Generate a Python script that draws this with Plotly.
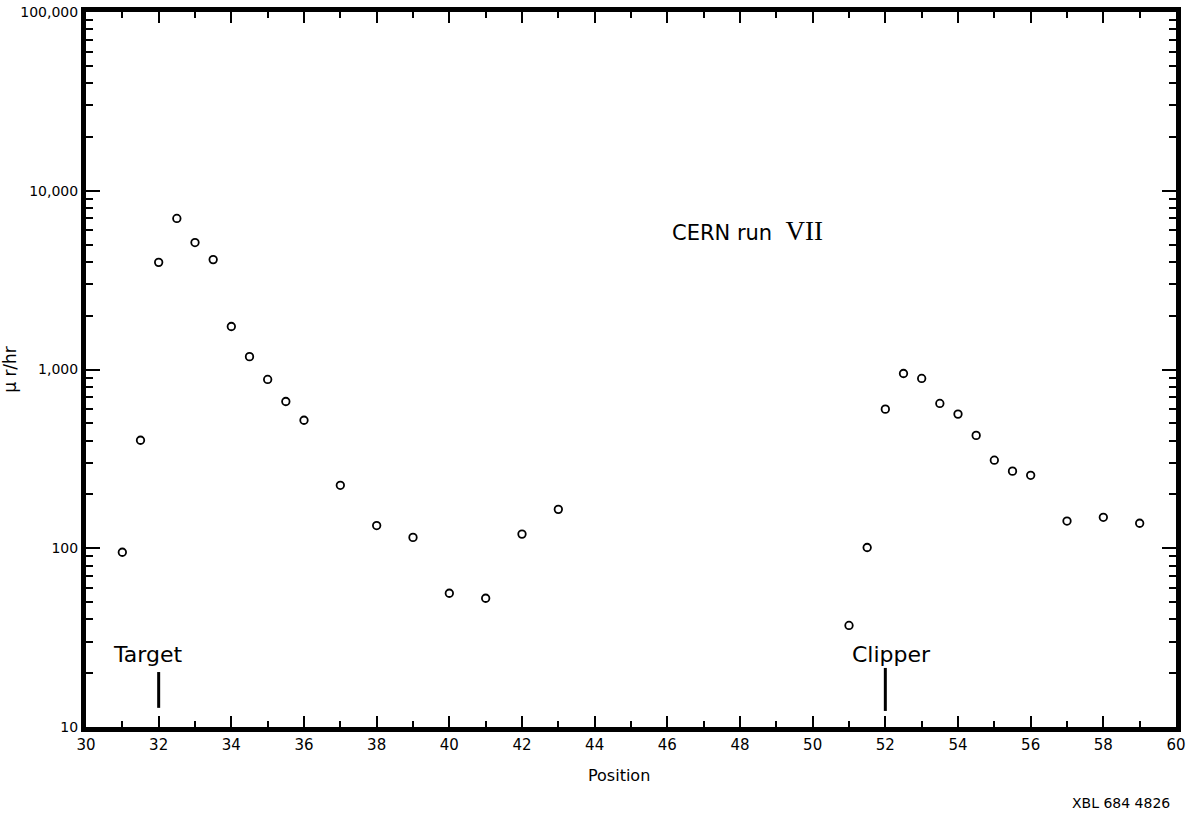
import plotly.graph_objects as go

# Data
position = [31, 31.5, 32, 32.5, 33, 33.5, 34, 34.5, 35, 35.5, 36, 37, 38, 39, 40, 41, 42, 43,
            51, 51.5, 52, 52.5, 53, 53.5, 54, 54.5, 55, 55.5, 56, 57, 58, 59]
dose = [95, 402, 3975, 7000, 5130, 4120, 1740, 1180, 880, 662, 520, 225, 134, 115, 56, 52.5, 120, 165,
        37, 101, 600, 950, 891, 646, 563, 428, 311, 270, 256, 142, 149, 138]

ytick_vals = [10, 100, 1000, 10000, 100000]
ytick_text = ["10", "100", "1,000", "10,000", "100,000"]
xtick_vals = list(range(30, 61, 2))
x_minor_vals = list(range(31, 60, 2))
y_minor_vals = [m * 10 ** e for e in range(1, 5) for m in range(2, 10)]

markers = {"Target": (32, 12.8, 20.3, 31.7), "Clipper": (52, 12.3, 21.4, 52.16)}

font = "DejaVu Sans"

fig = go.Figure()
fig.add_trace(go.Scatter(
    x=position, y=dose, mode="markers",
    marker=dict(symbol="circle-open", size=7.5, color="black", line=dict(width=1.8, color="black")),
    showlegend=False, hoverinfo="x+y",
))

for name, (xv, y0, y1, xt) in markers.items():
    fig.add_trace(go.Scatter(x=[xv, xv], y=[y0, y1], mode="lines",
                             line=dict(color="black", width=3), showlegend=False, hoverinfo="skip"))
    fig.add_annotation(x=xt, y=1.405, xref="x", yref="y", text=name, showarrow=False,
                       font=dict(family=font, size=22, color="black"), yanchor="middle")

fig.add_annotation(x=48.2, y=3.775, xref="x", yref="y",
                   text='CERN run  <span style="font-family:Liberation Serif;font-size:27px">VII</span>',
                   showarrow=False, font=dict(family=font, size=21, color="black"), yanchor="middle")

fig.add_annotation(x=1, y=0, xref="paper", yref="paper", xanchor="right", yanchor="middle",
                   text="XBL 684 4826", showarrow=False,
                   font=dict(family=font, size=14, color="black"), xshift=-4, yshift=-76)

fig.add_annotation(x=0.489, y=0, xref="paper", yref="paper", xanchor="center", yanchor="middle",
                   text="Position", showarrow=False,
                   font=dict(family=font, size=16, color="black"), yshift=-48)

fig.update_layout(
    width=1190, height=813,
    margin=dict(l=86, r=14, t=12, b=86),
    plot_bgcolor="white", paper_bgcolor="white",
    font=dict(family=font, color="black"),
)

fig.update_xaxes(
    range=[30, 60], tickvals=xtick_vals, ticktext=[str(v) for v in xtick_vals],
    ticks="inside", ticklen=11, tickwidth=1.5, tickcolor="black",
    minor=dict(tickvals=x_minor_vals, ticks="inside", ticklen=6, tickwidth=1.5, tickcolor="black"),
    showline=True, linewidth=5, linecolor="black", mirror="allticks",
    showgrid=False, zeroline=False, automargin=False,
    tickfont=dict(family=font, size=15),
)
fig.update_yaxes(
    type="log", range=[1, 5], tickvals=ytick_vals, ticktext=ytick_text,
    ticks="inside", ticklen=14, tickwidth=1.5, tickcolor="black",
    minor=dict(tickvals=y_minor_vals, ticks="inside", ticklen=7, tickwidth=1.5, tickcolor="black"),
    showline=True, linewidth=5, linecolor="black", mirror="allticks",
    showgrid=False, zeroline=False, automargin=False,
    tickfont=dict(family=font, size=14),
    title=dict(text="μ r/hr", font=dict(family=font, size=17), standoff=4),
)

fig.write_html("out.html")
